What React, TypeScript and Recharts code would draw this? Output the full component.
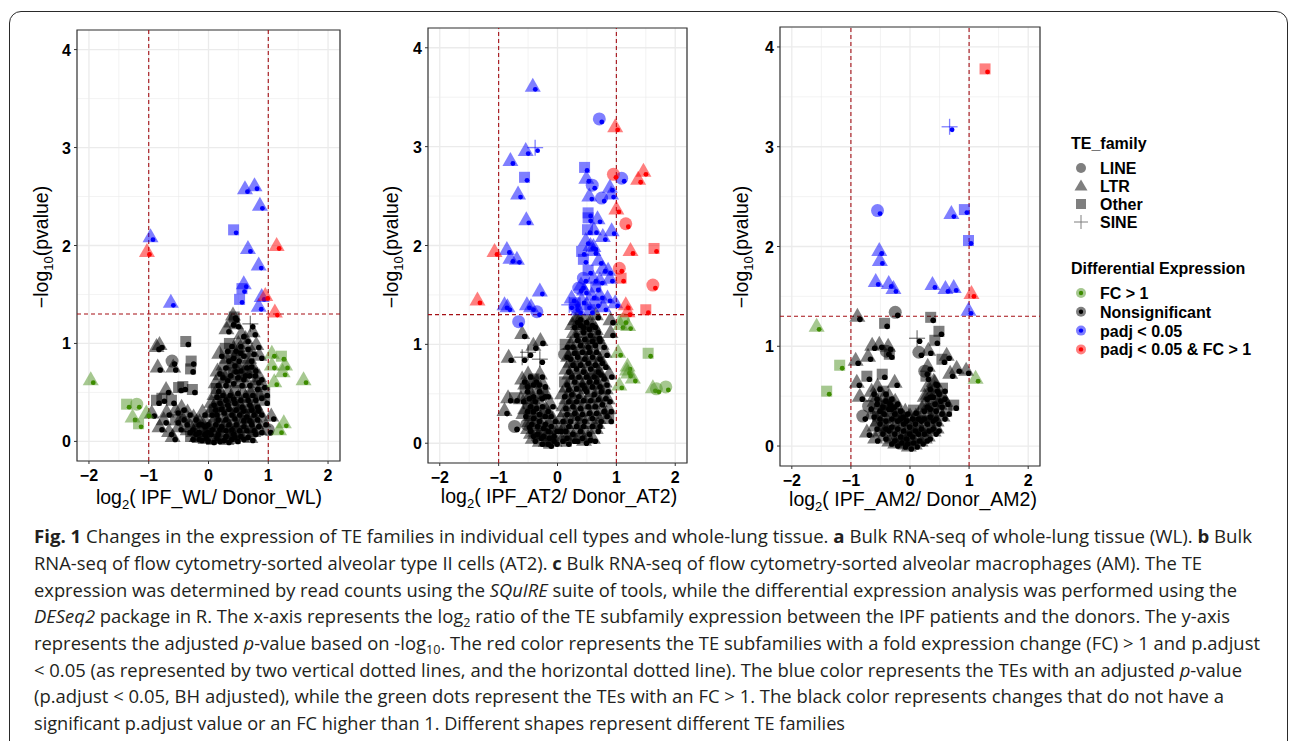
import React from "react";
import {
  ScatterChart,
  Scatter,
  XAxis,
  YAxis,
  CartesianGrid,
  ReferenceLine,
  ReferenceArea,
} from "recharts";

// [log2 fold change, -log10 p, TE family]  c=LINE t=LTR s=Other p=SINE
type Pt = [number, number, string];

const xTicks = [-2, -1.5, -1, -0.5, 0, 0.5, 1, 1.5, 2];
const yTicks = [0, 0.5, 1, 1.5, 2, 2.5, 3, 3.5, 4];
const fcCuts = [-1, 1];
const pCut = 1.301;

// ---- a: whole lung ----
const wlNonsig: Pt[] = [
  [0.41, 1.29, "t"], [0.43, 1.27, "s"], [0.3, 1.15, "t"], [0.74, 1.12, "t"], [0.7, 1.2, "p"],
  [0.38, 1.22, "t"], [0.46, 1.2, "t"], [0.55, 1.1, "t"], [0.62, 1.05, "t"],
  [0.35, 1.0, "s"], [0.5, 1.0, "t"], [0.8, 0.99, "t"], [0.62, 0.97, "t"], [0.42, 0.95, "t"],
  [0.38, 0.88, "s"], [0.85, 0.88, "t"], [0.55, 0.9, "t"], [0.68, 0.85, "t"], [0.3, 0.85, "t"], [0.47, 0.85, "c"],
  [0.25, 0.78, "t"], [0.4, 0.8, "t"], [0.6, 0.78, "s"], [0.68, 0.79, "t"], [0.75, 0.75, "t"], [0.5, 0.75, "t"],
  [0.2, 0.68, "t"], [0.33, 0.7, "s"], [0.45, 0.68, "t"], [0.58, 0.7, "t"], [0.74, 0.7, "s"], [0.85, 0.66, "t"],
  [0.12, 0.6, "t"], [0.25, 0.6, "t"], [0.38, 0.62, "c"], [0.52, 0.6, "t"], [0.65, 0.6, "t"], [0.8, 0.63, "t"], [0.9, 0.58, "t"],
  [0.13, 0.54, "s"], [0.2, 0.5, "t"], [0.32, 0.5, "t"], [0.45, 0.52, "s"], [0.58, 0.5, "t"], [0.7, 0.5, "t"], [0.85, 0.47, "t"], [0.94, 0.5, "s"],
  [0.05, 0.4, "t"], [0.15, 0.42, "t"], [0.28, 0.4, "s"], [0.4, 0.42, "t"], [0.52, 0.38, "t"], [0.65, 0.4, "t"], [0.78, 0.38, "t"], [0.94, 0.42, "s"],
  [0.02, 0.3, "t"], [0.1, 0.3, "s"], [0.22, 0.32, "t"], [0.35, 0.3, "t"], [0.48, 0.3, "t"], [0.6, 0.28, "s"], [0.72, 0.3, "t"], [0.85, 0.3, "t"], [1.05, 0.26, "t"],
  [-0.05, 0.2, "t"], [0.08, 0.2, "t"], [0.18, 0.18, "s"], [0.3, 0.2, "t"], [0.42, 0.2, "t"], [0.55, 0.18, "t"], [0.68, 0.2, "s"], [0.8, 0.18, "t"], [0.92, 0.2, "t"],
  [-0.1, 0.1, "s"], [0.0, 0.1, "t"], [0.12, 0.1, "t"], [0.25, 0.08, "t"], [0.38, 0.1, "s"], [0.5, 0.08, "t"], [0.62, 0.07, "t"], [0.75, 0.1, "t"], [1.0, 0.12, "c"],
  [-0.05, 0.03, "t"], [0.05, 0.02, "s"], [0.15, 0.03, "t"], [0.3, 0.02, "t"], [0.45, 0.03, "s"], [0.4, 0.07, "t"],
  [-0.87, 0.97, "t"], [-0.82, 0.99, "t"], [-0.38, 1.02, "s"], [-0.85, 0.76, "t"], [-0.61, 0.82, "c"], [-0.59, 0.76, "t"],
  [-0.29, 0.82, "s"], [-0.3, 0.74, "s"], [-0.71, 0.53, "t"], [-0.43, 0.56, "s"], [-0.27, 0.53, "s"], [-0.5, 0.55, "s"],
  [-0.87, 0.42, "s"], [-0.62, 0.42, "s"], [-0.78, 0.44, "s"], [-0.95, 0.29, "t"], [-0.55, 0.32, "t"], [-0.82, 0.15, "t"],
  [-0.66, 0.1, "t"], [-0.7, 0.3, "t"], [-0.45, 0.35, "t"], [-0.35, 0.3, "t"], [-0.25, 0.25, "t"], [-0.4, 0.2, "s"],
  [-0.3, 0.15, "t"], [-0.2, 0.12, "t"], [-0.15, 0.2, "t"], [-0.5, 0.15, "t"], [-0.55, 0.22, "s"], [-0.2, 0.05, "t"],
  [-0.3, 0.05, "s"], [-0.1, 0.3, "t"], [-0.15, 0.04, "t"], [-0.6, 0.05, "t"], [-0.75, 0.22, "t"],
  [0.18, 0.9, "t"], [0.28, 0.95, "s"], [0.5, 0.93, "t"], [0.72, 0.92, "t"], [0.15, 0.72, "t"], [0.28, 0.65, "t"],
  [0.42, 0.74, "s"], [0.55, 0.66, "t"], [0.65, 0.7, "t"], [0.78, 0.56, "t"], [0.1, 0.48, "t"], [0.25, 0.45, "t"],
  [0.38, 0.46, "t"], [0.5, 0.45, "t"], [0.62, 0.45, "t"], [0.75, 0.45, "s"], [0.08, 0.35, "t"], [0.18, 0.36, "t"],
  [0.3, 0.36, "t"], [0.42, 0.35, "s"], [0.55, 0.34, "t"], [0.68, 0.35, "t"], [0.8, 0.34, "t"], [0.02, 0.15, "t"],
  [0.15, 0.15, "t"], [0.25, 0.14, "t"], [0.35, 0.15, "t"], [0.48, 0.14, "t"], [0.6, 0.14, "t"], [0.72, 0.14, "t"],
  [0.85, 0.12, "t"], [-0.08, 0.06, "t"], [0.1, 0.06, "t"], [0.22, 0.04, "t"], [0.35, 0.05, "t"], [0.55, 0.05, "t"],
  [0.7, 0.04, "t"], [-0.25, 0.1, "t"], [-0.35, 0.12, "t"], [-0.45, 0.25, "t"], [-0.2, 0.2, "t"], [-0.1, 0.18, "t"],
  [-0.05, 0.12, "t"], [0.25, 0.25, "t"], [0.4, 0.26, "t"], [0.55, 0.24, "t"], [0.65, 0.24, "t"], [0.78, 0.25, "t"], [0.12, 0.25, "t"],
];
const wlFc: Pt[] = [
  [-1.97, 0.63, "t"], [-1.37, 0.38, "s"], [-1.2, 0.38, "c"], [-1.27, 0.25, "t"], [-1.17, 0.18, "s"], [-1.04, 0.29, "t"],
  [1.06, 0.9, "t"], [1.22, 0.87, "s"], [1.06, 0.78, "t"], [1.28, 0.78, "t"], [1.24, 0.71, "t"], [1.1, 0.61, "t"],
  [1.59, 0.63, "t"], [1.26, 0.19, "t"], [1.18, 0.12, "t"],
];
const wlSig: Pt[] = [
  [-0.97, 2.09, "t"], [-0.63, 1.42, "t"], [0.61, 2.58, "t"], [0.77, 2.61, "t"], [0.86, 2.41, "t"], [0.42, 2.16, "s"],
  [0.66, 1.97, "t"], [0.84, 1.8, "t"], [0.59, 1.61, "t"], [0.56, 1.56, "s"], [0.52, 1.45, "s"], [0.89, 1.48, "t"], [0.84, 1.38, "t"],
];
const wlSigFc: Pt[] = [
  [-1.03, 1.94, "t"], [1.14, 2.0, "t"], [0.95, 1.49, "t"], [1.11, 1.32, "t"],
];

// ---- b: AT2 ----
const atNonsig: Pt[] = [
  [-0.29, 1.04, "t"], [-0.41, 0.99, "t"], [-0.83, 0.87, "t"], [-0.6, 0.87, "p"], [-0.5, 0.92, "p"], [-0.3, 0.85, "p"],
  [-0.6, 1.11, "t"], [-0.84, 0.46, "t"], [-0.9, 0.33, "t"], [-0.73, 0.17, "c"], [-0.52, 0.19, "c"], [-0.73, 0.46, "s"],
  [0.13, 1.0, "s"], [0.67, 1.09, "t"], [0.9, 1.12, "t"], [0.87, 0.35, "t"], [0.87, 0.25, "s"], [0.12, 0.9, "c"],
  [0.35, 1.28, "t"], [0.65, 1.3, "t"], [0.9, 1.25, "t"],
  [-0.6, 0.65, "t"], [-0.5, 0.7, "t"], [-0.4, 0.65, "s"], [-0.3, 0.7, "t"], [-0.55, 0.55, "s"], [-0.45, 0.5, "t"],
  [-0.35, 0.55, "t"], [-0.25, 0.5, "s"], [-0.62, 0.45, "t"], [-0.5, 0.4, "s"], [-0.4, 0.38, "t"], [-0.3, 0.4, "t"],
  [-0.2, 0.35, "t"], [-0.58, 0.3, "t"], [-0.45, 0.28, "t"], [-0.35, 0.25, "s"], [-0.25, 0.22, "t"], [-0.15, 0.2, "t"],
  [-0.5, 0.15, "t"], [-0.38, 0.12, "t"], [-0.28, 0.1, "s"], [-0.18, 0.08, "t"], [-0.1, 0.1, "t"], [-0.3, 0.02, "t"],
  [-0.15, 0.0, "s"], [-0.05, 0.02, "t"], [-0.42, 0.05, "t"], [-0.08, 0.25, "t"], [-0.12, 0.4, "t"],
  [0.05, 0.05, "t"], [0.15, 0.02, "s"], [0.3, 0.05, "s"], [0.45, 0.03, "t"], [0.6, 0.05, "t"], [0.1, 0.15, "t"],
  [0.22, 0.12, "t"], [0.35, 0.15, "t"], [0.5, 0.12, "s"], [0.65, 0.15, "t"], [0.05, 0.25, "t"], [0.18, 0.25, "s"],
  [0.3, 0.28, "t"], [0.42, 0.25, "t"], [0.55, 0.28, "t"], [0.7, 0.25, "t"], [0.8, 0.3, "t"], [0.1, 0.38, "t"],
  [0.22, 0.4, "t"], [0.35, 0.38, "s"], [0.48, 0.4, "t"], [0.6, 0.4, "t"], [0.72, 0.42, "t"], [0.85, 0.45, "t"],
  [0.08, 0.5, "t"], [0.2, 0.52, "t"], [0.32, 0.5, "t"], [0.45, 0.55, "s"], [0.58, 0.52, "t"], [0.7, 0.55, "t"],
  [0.82, 0.55, "t"], [0.12, 0.62, "s"], [0.25, 0.65, "t"], [0.38, 0.62, "t"], [0.5, 0.65, "t"], [0.62, 0.65, "s"],
  [0.75, 0.68, "t"], [0.88, 0.7, "t"], [0.15, 0.75, "t"], [0.28, 0.78, "s"], [0.4, 0.75, "t"], [0.52, 0.78, "t"],
  [0.65, 0.75, "t"], [0.78, 0.8, "t"], [0.18, 0.88, "t"], [0.3, 0.9, "t"], [0.42, 0.88, "s"], [0.55, 0.9, "t"],
  [0.68, 0.88, "t"], [0.8, 0.92, "t"], [0.22, 1.0, "t"], [0.35, 1.02, "t"], [0.48, 1.0, "t"], [0.6, 1.02, "s"],
  [0.75, 1.0, "t"], [0.28, 1.12, "t"], [0.4, 1.15, "t"], [0.52, 1.12, "t"], [0.65, 1.15, "t"], [0.35, 1.22, "t"],
  [0.45, 1.25, "s"], [0.55, 1.22, "t"], [0.25, 1.2, "t"],
  [-0.55, 0.6, "t"], [-0.45, 0.62, "t"], [-0.35, 0.62, "t"], [-0.25, 0.6, "t"], [-0.2, 0.5, "t"], [-0.15, 0.3, "t"],
  [-0.52, 0.48, "t"], [-0.42, 0.45, "t"], [-0.3, 0.48, "t"], [-0.55, 0.35, "t"], [-0.45, 0.35, "t"], [-0.35, 0.32, "t"],
  [-0.25, 0.3, "t"], [-0.48, 0.22, "t"], [-0.38, 0.2, "t"], [-0.28, 0.18, "t"], [-0.2, 0.15, "t"], [-0.1, 0.05, "t"],
  [-0.2, 0.02, "t"], [-0.05, 0.15, "t"], [-0.45, 0.1, "t"], [-0.32, 0.08, "t"],
  [0.12, 0.08, "t"], [0.25, 0.05, "t"], [0.38, 0.08, "t"], [0.52, 0.06, "t"], [0.15, 0.2, "t"], [0.28, 0.2, "t"],
  [0.4, 0.2, "t"], [0.55, 0.2, "t"], [0.68, 0.2, "t"], [0.12, 0.32, "t"], [0.25, 0.33, "t"], [0.38, 0.32, "t"],
  [0.5, 0.33, "t"], [0.62, 0.33, "t"], [0.75, 0.35, "t"], [0.15, 0.45, "t"], [0.28, 0.45, "t"], [0.4, 0.46, "t"],
  [0.52, 0.46, "t"], [0.65, 0.47, "t"], [0.78, 0.48, "t"], [0.15, 0.57, "t"], [0.28, 0.58, "t"], [0.42, 0.58, "t"],
  [0.55, 0.6, "t"], [0.68, 0.6, "t"], [0.8, 0.62, "t"], [0.2, 0.7, "t"], [0.32, 0.7, "t"], [0.45, 0.7, "t"],
  [0.58, 0.7, "t"], [0.7, 0.72, "t"], [0.22, 0.82, "t"], [0.35, 0.82, "t"], [0.48, 0.84, "t"], [0.6, 0.82, "t"],
  [0.72, 0.84, "t"], [0.25, 0.94, "t"], [0.38, 0.95, "t"], [0.5, 0.95, "t"], [0.62, 0.95, "t"], [0.3, 1.07, "t"],
  [0.42, 1.08, "t"], [0.55, 1.06, "t"], [0.68, 1.06, "t"], [0.4, 1.2, "t"], [0.5, 1.18, "t"], [0.3, 1.25, "t"],
  [0.6, 1.2, "t"], [0.02, 0.15, "t"],
];
const atFc: Pt[] = [
  [1.07, 1.2, "t"], [1.2, 1.19, "t"], [1.03, 0.92, "t"], [1.54, 0.91, "s"], [1.19, 0.78, "t"], [1.18, 0.74, "t"],
  [1.2, 0.71, "t"], [1.28, 0.66, "t"], [1.05, 0.59, "t"], [1.62, 0.56, "t"], [1.68, 0.55, "c"], [1.84, 0.57, "c"], [1.12, 1.25, "c"],
];
const atSig: Pt[] = [
  [-0.42, 3.61, "t"], [0.71, 3.28, "c"], [-0.54, 2.96, "t"], [-0.38, 2.99, "p"], [-0.8, 2.86, "t"], [-0.56, 2.69, "s"],
  [-0.67, 2.52, "t"], [-0.53, 2.26, "t"], [-0.86, 1.96, "t"], [-0.8, 1.87, "t"], [-0.69, 1.86, "t"], [-0.9, 1.4, "t"],
  [-0.52, 1.4, "t"], [-0.3, 1.54, "t"], [-0.35, 1.33, "c"], [-0.66, 1.23, "c"], [-0.45, 1.38, "t"], [-0.85, 1.38, "t"],
  [0.46, 2.79, "s"], [0.49, 2.68, "t"], [0.59, 2.61, "c"], [0.54, 2.5, "t"], [0.75, 2.48, "c"], [0.89, 2.59, "t"],
  [0.91, 2.52, "t"], [1.09, 2.68, "c"], [0.52, 2.33, "s"], [0.52, 2.28, "s"], [0.68, 2.27, "t"], [0.92, 2.15, "t"],
  [0.51, 2.16, "s"], [0.62, 2.16, "t"], [0.77, 2.09, "t"], [0.61, 1.99, "t"], [0.41, 1.94, "s"], [0.61, 1.95, "t"],
  [0.44, 1.86, "s"], [0.77, 1.77, "t"], [0.86, 1.75, "t"], [0.52, 1.75, "s"], [0.44, 1.67, "c"], [0.61, 1.67, "t"],
  [0.72, 1.65, "t"], [0.89, 1.67, "t"], [0.36, 1.57, "c"], [0.24, 1.47, "t"], [0.41, 1.45, "t"], [0.58, 1.5, "t"],
  [0.72, 1.5, "t"], [0.85, 1.47, "t"], [0.98, 1.42, "t"], [0.3, 1.42, "s"], [0.5, 1.4, "t"], [0.65, 1.42, "c"],
  [0.35, 1.35, "t"], [0.55, 1.35, "s"], [0.2, 1.4, "p"], [0.78, 1.38, "t"], [0.45, 1.55, "t"], [0.65, 1.58, "s"],
  [0.56, 2.0, "t"], [0.7, 1.85, "t"], [0.48, 2.05, "t"], [0.4, 1.6, "t"], [0.3, 1.38, "c"],
];
const atSigFc: Pt[] = [
  [-1.36, 1.45, "t"], [-1.07, 1.94, "t"], [0.98, 3.2, "t"], [0.95, 2.72, "c"], [1.46, 2.75, "t"], [1.37, 2.67, "t"],
  [1.0, 2.37, "t"], [1.16, 2.22, "c"], [1.24, 1.95, "t"], [1.64, 1.97, "s"], [1.05, 1.77, "c"], [1.08, 1.67, "s"],
  [1.62, 1.6, "c"], [1.16, 1.4, "t"], [1.19, 1.33, "t"], [1.5, 1.35, "s"],
];

// ---- c: AM ----
const amNonsig: Pt[] = [
  [-0.25, 1.34, "c"], [-0.89, 1.3, "t"], [0.35, 1.29, "s"], [-0.43, 1.23, "s"], [0.12, 1.08, "p"], [0.49, 1.15, "s"],
  [0.42, 1.06, "s"], [-0.64, 1.01, "t"], [-0.52, 1.02, "t"], [-0.37, 1.0, "t"], [-0.4, 0.95, "c"], [-0.35, 0.92, "s"],
  [0.15, 0.94, "c"], [0.31, 0.96, "t"], [0.54, 0.87, "s"], [0.62, 0.91, "t"], [-0.92, 0.86, "t"], [-0.71, 0.9, "t"],
  [0.68, 0.73, "t"], [0.79, 0.78, "t"], [0.95, 0.76, "t"], [-0.73, 0.7, "s"], [-0.9, 0.64, "t"], [-0.47, 0.72, "s"],
  [-0.26, 0.64, "t"], [0.27, 0.7, "s"], [0.42, 0.64, "t"], [-0.85, 0.5, "t"], [0.74, 0.41, "s"], [0.06, 0.36, "s"],
  [-0.73, 0.14, "t"], [-0.59, 0.08, "t"], [-0.8, 0.3, "c"], [0.3, 0.8, "t"], [0.25, 0.75, "c"],
  [-0.65, 0.55, "t"], [-0.55, 0.6, "t"], [-0.45, 0.55, "s"], [-0.35, 0.5, "t"], [-0.6, 0.45, "t"], [-0.5, 0.42, "t"],
  [-0.4, 0.4, "s"], [-0.3, 0.42, "t"], [-0.2, 0.38, "t"], [-0.65, 0.32, "t"], [-0.55, 0.3, "s"], [-0.45, 0.28, "t"],
  [-0.35, 0.3, "t"], [-0.25, 0.28, "t"], [-0.15, 0.25, "t"], [-0.6, 0.2, "t"], [-0.5, 0.15, "t"], [-0.4, 0.18, "t"],
  [-0.3, 0.15, "s"], [-0.2, 0.12, "t"], [-0.1, 0.1, "t"], [-0.35, 0.05, "t"], [-0.25, 0.03, "t"], [-0.12, 0.02, "s"],
  [-0.02, 0.0, "t"], [0.08, 0.02, "t"], [0.18, 0.05, "t"], [0.0, 0.12, "t"], [0.1, 0.15, "s"], [0.2, 0.15, "t"],
  [0.3, 0.1, "t"], [0.4, 0.15, "t"], [-0.05, 0.22, "t"], [0.05, 0.25, "t"], [0.15, 0.28, "t"], [0.25, 0.25, "s"],
  [0.35, 0.28, "t"], [0.45, 0.25, "t"], [0.55, 0.3, "t"], [0.2, 0.38, "t"], [0.3, 0.4, "t"], [0.4, 0.38, "s"],
  [0.5, 0.42, "t"], [0.6, 0.45, "t"], [0.25, 0.5, "t"], [0.35, 0.52, "t"], [0.45, 0.55, "t"], [0.55, 0.58, "s"],
  [0.3, 0.6, "t"], [0.4, 0.65, "t"], [0.1, 0.3, "t"], [-0.08, 0.35, "t"], [0.62, 0.35, "s"], [-0.7, 0.4, "c"],
  [-0.45, 0.48, "t"], [-0.38, 0.45, "t"], [-0.25, 0.45, "t"], [-0.15, 0.32, "t"], [-0.55, 0.38, "t"], [-0.48, 0.35, "t"],
  [-0.3, 0.35, "t"], [-0.2, 0.3, "t"], [-0.1, 0.28, "t"], [-0.55, 0.25, "t"], [-0.45, 0.2, "t"], [-0.35, 0.22, "t"],
  [-0.25, 0.2, "t"], [-0.15, 0.18, "t"], [-0.05, 0.15, "t"], [-0.45, 0.1, "t"], [-0.3, 0.08, "t"], [-0.18, 0.06, "t"],
  [-0.08, 0.05, "t"], [0.02, 0.06, "t"], [0.12, 0.08, "t"], [0.25, 0.08, "t"], [0.05, 0.18, "t"], [0.15, 0.2, "t"],
  [0.28, 0.18, "t"], [0.35, 0.2, "t"], [0.45, 0.18, "t"], [0.0, 0.3, "t"], [0.2, 0.3, "t"], [0.3, 0.32, "t"],
  [0.4, 0.3, "t"], [0.5, 0.35, "t"], [0.25, 0.42, "t"], [0.38, 0.45, "t"], [0.48, 0.48, "t"], [0.3, 0.52, "t"],
  [0.42, 0.58, "t"], [-0.35, 0.4, "t"], [-0.6, 0.5, "t"], [0.55, 0.5, "t"],
];
const amFc: Pt[] = [
  [-1.58, 1.2, "t"], [-1.19, 0.81, "s"], [-1.41, 0.55, "s"], [1.11, 0.68, "t"],
];
const amSig: Pt[] = [
  [0.67, 3.2, "p"], [-0.55, 2.36, "c"], [-0.52, 1.96, "t"], [-0.51, 1.86, "t"], [-0.58, 1.65, "t"], [-0.36, 1.63, "t"],
  [-0.28, 1.58, "t"], [0.7, 2.33, "t"], [0.92, 2.37, "s"], [0.99, 2.06, "s"], [0.38, 1.62, "t"], [0.6, 1.58, "t"],
  [0.74, 1.59, "t"], [0.99, 1.36, "t"],
];
const amSigFc: Pt[] = [
  [1.27, 3.78, "s"], [1.04, 1.53, "t"],
];

const deNames = ["Nonsignificant", "FC > 1", "padj < 0.05", "padj < 0.05 & FC > 1"];
const deFill = ["rgba(0,0,0,0.5)", "rgba(77,146,33,0.5)", "rgba(0,0,255,0.5)", "rgba(255,0,0,0.5)"];
const deDot = ["#000000", "#3d8c00", "#0000ff", "#ff0000"];
const dotR = [2.8, 2.4, 2.4, 2.4];
const legendOrder = [1, 0, 2, 3];
const familyNames = ["LINE", "LTR", "Other", "SINE"];
const familyCodes = ["c", "t", "s", "p"];

const panels = [
  { id: "wl", left: 0, width: 345, top: 30, yW: 77, xH: 59, num: "IPF_WL", den: "Donor_WL", tx: 209, ty: 504, yx: 42, groups: [wlNonsig, wlFc, wlSig, wlSigFc] },
  { id: "at", left: 350, width: 342, top: 28, yW: 78, xH: 57, num: "IPF_AT2", den: "Donor_AT2", tx: 559, ty: 503, yx: 392, groups: [atNonsig, atFc, atSig, atSigFc] },
  { id: "am", left: 700, width: 345, top: 27, yW: 80, xH: 54, num: "IPF_AM2", den: "Donor_AM2", tx: 913, ty: 506, yx: 742, groups: [amNonsig, amFc, amSig, amSigFc] },
];

const FONT = "'Liberation Sans', Arial, Helvetica, sans-serif";

function mark(s: string, cx: number, cy: number, fill: string) {
  if (s === "c") return <circle cx={cx} cy={cy} r={6.5} fill={fill} />;
  if (s === "t")
    return <polygon points={`${cx},${cy - 8.5} ${cx - 8},${cy + 5.5} ${cx + 8},${cy + 5.5}`} fill={fill} />;
  if (s === "s") return <rect x={cx - 5.5} y={cy - 5.5} width={11} height={11} fill={fill} />;
  return (
    <g stroke={fill} strokeWidth={1.3}>
      <line x1={cx - 8} x2={cx + 8} y1={cy} y2={cy} />
      <line x1={cx} x2={cx} y1={cy - 8} y2={cy + 8} />
    </g>
  );
}

const makeShape = (gi: number) => (props: any) => {
  const { cx, cy, payload } = props;
  return (
    <g>
      {mark(payload.s, cx, cy, deFill[gi])}
      <circle cx={cx + 2.5} cy={cy + 3} r={dotR[gi]} fill={deDot[gi]} />
    </g>
  );
};

const fmt = (v: number) => (v < 0 ? "\u2212" + Math.abs(v) : String(v));

const XTick = (p: any) => {
  const v = p.payload.value;
  if (!Number.isInteger(v)) return <g />;
  return (
    <g>
      <line x1={p.x} x2={p.x} y1={p.y - 5} y2={p.y - 2} stroke="#333" strokeWidth={1} />
      <text x={p.x} y={p.y + 15} textAnchor="middle" fontSize={16} fontWeight="bold" fill="#000" fontFamily={FONT}>
        {fmt(v)}
      </text>
    </g>
  );
};

const YTick = (p: any) => {
  const v = p.payload.value;
  if (!Number.isInteger(v)) return <g />;
  return (
    <g>
      <line x1={p.x + 2} x2={p.x + 5} y1={p.y} y2={p.y} stroke="#333" strokeWidth={1} />
      <text x={p.x - 1} y={p.y + 6} textAnchor="end" fontSize={16} fontWeight="bold" fill="#000" fontFamily={FONT}>
        {fmt(v)}
      </text>
    </g>
  );
};

const gridLine = (p: any) => (
  <line
    key={p.key}
    x1={p.x1}
    x2={p.x2}
    y1={p.y1}
    y2={p.y2}
    stroke="#ebebeb"
    strokeWidth={p.index % 2 === 0 ? 1.3 : 0.6}
  />
);

function Volcano({ cfg }: { cfg: (typeof panels)[number] }) {
  return (
    <div style={{ position: "absolute", left: cfg.left, top: 0 }}>
      <ScatterChart width={cfg.width} height={520} margin={{ top: cfg.top, right: 5, bottom: 0, left: 0 }}>
        <CartesianGrid horizontal={gridLine} vertical={gridLine} />
        <XAxis
          type="number"
          dataKey="x"
          domain={[-2.2, 2.2]}
          ticks={xTicks}
          interval={0}
          height={cfg.xH}
          axisLine={false}
          tickLine={false}
          tickSize={3}
          tickMargin={2}
          tick={XTick}
        />
        <YAxis
          type="number"
          dataKey="y"
          domain={[-0.2, 4.2]}
          ticks={yTicks}
          interval={0}
          width={cfg.yW}
          axisLine={false}
          tickLine={false}
          tickSize={3}
          tickMargin={2}
          tick={YTick}
        />
        {cfg.groups.map((pts, gi) => (
          <Scatter
            key={deNames[gi]}
            name={deNames[gi]}
            data={pts.map(([x, y, s]) => ({ x, y, s }))}
            shape={makeShape(gi)}
            isAnimationActive={false}
          />
        ))}
        {fcCuts.map((v) => (
          <ReferenceLine key={v} x={v} stroke="#a50f15" strokeDasharray="4 3" strokeWidth={1.1} />
        ))}
        <ReferenceLine y={pCut} stroke="#a50f15" strokeDasharray="4 3" strokeWidth={1.1} />
        <ReferenceArea x1={-2.2} x2={2.2} y1={-0.2} y2={4.2} fill="none" fillOpacity={0} stroke="#333" strokeWidth={1.2} />
      </ScatterChart>
    </div>
  );
}

type Span = [string, string];
const captionX = 34;
const captionLines: { parts: Span[]; end: number; y: number }[] = [
  { y: 543, end: 1252, parts: [["b", "Fig. 1"], ["n", " Changes in the expression of TE families in individual cell types and whole-lung tissue. "], ["b", "a"], ["n", " Bulk RNA-seq of whole-lung tissue (WL). "], ["b", "b"], ["n", " Bulk"]] },
  { y: 570, end: 1202, parts: [["n", "RNA-seq of flow cytometry-sorted alveolar type II cells (AT2). "], ["b", "c"], ["n", " Bulk RNA-seq of flow cytometry-sorted alveolar macrophages (AM). The TE"]] },
  { y: 597, end: 1237, parts: [["n", "expression was determined by read counts using the "], ["i", "SQuIRE"], ["n", " suite of tools, while the differential expression analysis was performed using the"]] },
  { y: 623, end: 1230, parts: [["i", "DESeq2"], ["n", " package in R. The x-axis represents the log"], ["sub", "2"], ["n", " ratio of the TE subfamily expression between the IPF patients and the donors. The y-axis"]] },
  { y: 650, end: 1260, parts: [["n", "represents the adjusted "], ["i", "p"], ["n", "-value based on -log"], ["sub", "10"], ["n", ". The red color represents the TE subfamilies with a fold expression change (FC) > 1 and p.adjust"]] },
  { y: 677, end: 1242, parts: [["n", "< 0.05 (as represented by two vertical dotted lines, and the horizontal dotted line). The blue color represents the TEs with an adjusted "], ["i", "p"], ["n", "-value"]] },
  { y: 703, end: 1224, parts: [["n", "(p.adjust < 0.05, BH adjusted), while the green dots represent the TEs with an FC > 1. The black color represents changes that do not have a"]] },
  { y: 730, end: 845, parts: [["n", "significant p.adjust value or an FC higher than 1. Different shapes represent different TE families"]] },
];

function CaptionLine({ line }: { line: (typeof captionLines)[number] }) {
  let shifted = false;
  return (
    <text
      x={captionX}
      y={line.y}
      textLength={line.end - captionX}
      lengthAdjust="spacingAndGlyphs"
      fontFamily="'Open Sans', 'Noto Sans', sans-serif"
      fontSize={17.5}
      fill="#231f20"
    >
      {line.parts.map(([k, t], i) => {
        let dy = 0;
        if (k === "sub") {
          dy = 4;
          shifted = true;
        } else if (shifted) {
          dy = -4;
          shifted = false;
        }
        return (
          <tspan
            key={i}
            dy={dy || undefined}
            fontWeight={k === "b" ? "bold" : undefined}
            fontStyle={k === "i" ? "italic" : undefined}
            fontSize={k === "sub" ? 12 : undefined}
          >
            {t}
          </tspan>
        );
      })}
    </text>
  );
}

function Overlay() {
  const lx = 1081;
  return (
    <svg width={1290} height={741} style={{ position: "absolute", left: 0, top: 0, pointerEvents: "none" }}>
      {panels.map((p) => (
        <g key={p.id} fontFamily={FONT} fill="#000">
          <text x={p.tx} y={p.ty} textAnchor="middle" fontSize={19.5}>
            log<tspan fontSize={13} dy={5}>2</tspan>
            <tspan dy={-5}>{`( ${p.num}/ ${p.den})`}</tspan>
          </text>
          <text transform={`translate(${p.yx + 6},247) rotate(-90)`} textAnchor="middle" fontSize={19.5}>
            {"\u2212log"}
            <tspan fontSize={13} dy={5}>10</tspan>
            <tspan dy={-5}>(pvalue)</tspan>
          </text>
        </g>
      ))}
      <g fontFamily={FONT} fontWeight="bold" fontSize={16} fill="#000">
        <text x={1071} y={149}>TE_family</text>
        {familyNames.map((n, i) => {
          const cy = 168 + i * 18;
          return (
            <g key={n}>
              {familyCodes[i] === "p" ? (
                <g stroke="#7f7f7f" strokeWidth={1}>
                  <line x1={lx - 7} x2={lx + 7} y1={cy} y2={cy} />
                  <line x1={lx} x2={lx} y1={cy - 7} y2={cy + 7} />
                </g>
              ) : familyCodes[i] === "c" ? (
                <circle cx={lx} cy={cy} r={5} fill="#7f7f7f" />
              ) : familyCodes[i] === "t" ? (
                <polygon points={`${lx},${cy - 6.5} ${lx - 6.5},${cy + 4.5} ${lx + 6.5},${cy + 4.5}`} fill="#7f7f7f" />
              ) : (
                <rect x={lx - 5} y={cy - 5} width={10} height={10} fill="#7f7f7f" />
              )}
              <text x={1100} y={cy + 6}>{n}</text>
            </g>
          );
        })}
        <text x={1071} y={274}>Differential Expression</text>
        {legendOrder.map((gi, i) => {
          const cy = 293 + i * 18.8;
          return (
            <g key={gi}>
              <circle cx={lx} cy={cy} r={5} fill={deFill[gi]} />
              <circle cx={lx} cy={cy} r={2.2} fill={deDot[gi]} />
              <text x={1100} y={cy + 6}>{deNames[gi]}</text>
            </g>
          );
        })}
      </g>
      {captionLines.map((l, i) => (
        <CaptionLine key={i} line={l} />
      ))}
    </svg>
  );
}

export default function App() {
  return (
    <div style={{ position: "absolute", left: 0, top: 0, width: 1290, height: 741, overflow: "hidden", background: "#fff" }}>
      <div
        style={{
          position: "absolute",
          left: 9,
          top: 11,
          width: 1279,
          height: 800,
          border: "1.5px solid #2a2a2a",
          borderRadius: 12,
          boxSizing: "border-box",
        }}
      />
      {panels.map((p) => (
        <Volcano key={p.id} cfg={p} />
      ))}
      <Overlay />
    </div>
  );
}
